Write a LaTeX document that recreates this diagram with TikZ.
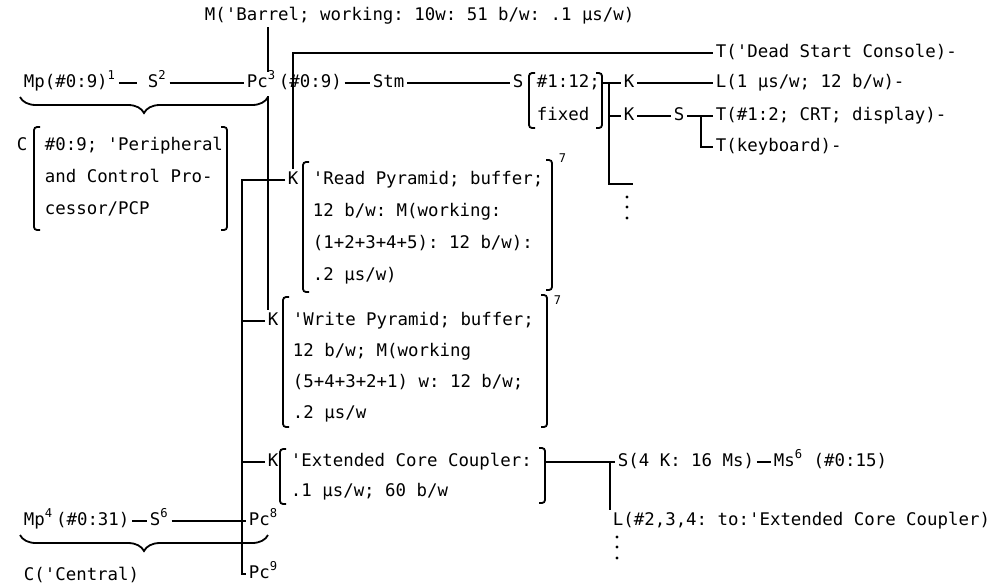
\documentclass[tikz,border=0pt]{standalone}
\usepackage{fontspec}
\newfontfamily\typer{DejaVu Sans Mono}
\usetikzlibrary{decorations.pathreplacing}
\newcommand\qtick{\textquotesingle}

\begin{document}
\frenchspacing
\begin{tikzpicture}[x=0.5pt,y=-0.5pt,line width=0.9pt,
  every node/.style={font={\typer\fontsize{8.7}{10}\selectfont},inner sep=1pt,anchor=west,text height=6.5pt,text depth=2pt},
  supnum/.style={font={\typer\fontsize{6}{7}\selectfont}},
  brk/.style={rounded corners=1.5pt},
  brace/.style={decorate,decoration={brace,mirror,amplitude=8pt}}]

\useasboundingbox (0,0) rectangle (999,585);

\node (barrel) at (202,16) {M(\qtick Barrel; working: 10w: 51 b/w: .1 µs/w)};
\node (dead) at (713,53) {T(\qtick Dead Start Console)-};

% peripheral row
\node (mp1) at (21,83) {Mp(\#0:9)\textsuperscript{1}};
\node (s2) at (145,83) {S\textsuperscript{2}};
\node (pc3) at (244,83) {Pc\textsuperscript{3}};
\node (pcn) at (276,83) {(\#0:9)};
\node (stm) at (370,83) {Stm};
\node (sw) at (510,83) {S};
\node (sw1) at (534,83) {\#1:12;};
\node (sw2) at (534,116) {fixed};
\node (k1) at (621,83) {K};
\node (lq) at (713,83) {L(1 µs/w; 12 b/w)-};
\node (k2) at (621,116) {K};
\node (s3) at (671,116) {S};
\node (tcrt) at (713,116) {T(\#1:2; CRT; display)-};
\node (tkey) at (713,147) {T(keyboard)-};

\node (cp) at (14,146) {C};
\node (c1) at (42,146) {\#0:9; \qtick Peripheral};
\node (c2) at (42,178) {and Control Pro-};
\node (c3) at (42,210) {cessor/PCP};

% pyramids
\node (kr) at (285,180) {K};
\node (r1) at (310,180) {\qtick Read Pyramid; buffer;};
\node (r2) at (310,212) {12 b/w: M(working:};
\node (r3) at (310,244) {(1+2+3+4+5): 12 b/w):};
\node (r4) at (310,276) {.2 µs/w)};
\node[supnum] (r7) at (556,158) {7};

\node (kw) at (265,321) {K};
\node (w1) at (290,321) {\qtick Write Pyramid; buffer;};
\node (w2) at (290,352) {12 b/w; M(working};
\node (w3) at (290,383) {(5+4+3+2+1) w: 12 b/w;};
\node (w4) at (290,414) {.2 µs/w};
\node[supnum] (w7) at (551,300) {7};

\node (kx) at (265,462) {K};
\node (x1) at (288,462) {\qtick Extended Core Coupler:};
\node (x2) at (288,492) {.1 µs/w; 60 b/w};
\node (sk) at (615,462) {S(4 K: 16 Ms)};
\node (ms) at (771,462) {Ms\textsuperscript{6} (\#0:15)};
\node (lx) at (610,521) {L(\#2,3,4: to:\qtick Extended Core Coupler)};

% central row
\node (mp4) at (21,521) {Mp\textsuperscript{4}\,(\#0:31)};
\node (s6) at (147,521) {S\textsuperscript{6}};
\node (pc8) at (246,521) {Pc\textsuperscript{8}};
\node (pc9) at (246,574) {Pc\textsuperscript{9}};
\node (cc) at (21,576) {C(\qtick Central)};

\coordinate (vm) at (268,96);
\coordinate (lb) at (242,180);
\coordinate (sbr) at (602,83);
\coordinate (sb) at (609,83);
\coordinate (sbf) at (633,184);
\coordinate (sj) at (701,116);
\coordinate (xbr) at (545,462);

\draw[shorten >=4pt] (mp1) -- (s2);
\draw (s2) -- (pc3);
\draw (pcn) -- (stm);
\draw (stm) -- (sw);
\draw (sbr) -- (k1);
\draw (sb) |- (k2);
\draw (sb) |- (sbf);
\draw (k1) -- (lq);
\draw (k2) -- (s3) -- (tcrt);
\draw (sj) |- (tkey);

\draw (barrel.south -| vm) -- (pc3.north -| vm);
\draw (vm) -- (kw.north -| vm);
\draw (kr.north) |- (dead);

\draw (kr) -- (lb) |- (pc9);
\draw (lb |- kw) -- (kw);
\draw (lb |- kx) -- (kx);
\draw (mp4) -- (s6) -- (pc8);

\draw (xbr) -- (sk);
\draw (lx.north west |- sk) -- (lx.north west);
\draw (sk) -- (ms);

\foreach \y in {197,207,218} \fill (627,\y) circle (0.8pt);
\foreach \y in {537,547,558} \fill (617,\y) circle (0.8pt);

% brackets
\draw[brk] (535,73) -- (529,73) -- (529,128) -- (535,128);
\draw[brk] (596,73) -- (602,73) -- (602,128) -- (596,128);
\draw[brk] (40,127) -- (34,127) -- (34,230) -- (40,230);
\draw[brk] (221,127) -- (227,127) -- (227,230) -- (221,230);
\draw[brk] (309,162) -- (303,162) -- (303,292) -- (309,292);
\draw[brk] (546,160) -- (552,160) -- (552,290) -- (546,290);
\draw[brk] (289,297) -- (283,297) -- (283,427) -- (289,427);
\draw[brk] (541,295) -- (547,295) -- (547,427) -- (541,427);
\draw[brk] (286,449) -- (280,449) -- (280,504) -- (286,504);
\draw[brk] (539,448) -- (545,448) -- (545,503) -- (539,503);

\draw[brace] (20,97) -- (268,97);
\draw[brace] (20,535) -- (268,535);

\end{tikzpicture}
\end{document}
